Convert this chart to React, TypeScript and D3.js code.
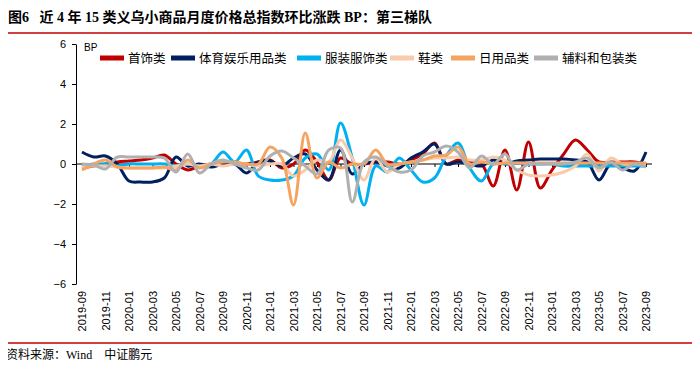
import React, { useEffect, useRef } from "react";
import * as d3 from "d3";

const months = [
  "2019-09", "2019-10", "2019-11", "2019-12",
  "2020-01", "2020-02", "2020-03", "2020-04", "2020-05", "2020-06", "2020-07", "2020-08", "2020-09", "2020-10", "2020-11", "2020-12",
  "2021-01", "2021-02", "2021-03", "2021-04", "2021-05", "2021-06", "2021-07", "2021-08", "2021-09", "2021-10", "2021-11", "2021-12",
  "2022-01", "2022-02", "2022-03", "2022-04", "2022-05", "2022-06", "2022-07", "2022-08", "2022-09", "2022-10", "2022-11", "2022-12",
  "2023-01", "2023-02", "2023-03", "2023-04", "2023-05", "2023-06", "2023-07", "2023-08", "2023-09",
];

// 首饰类
const jewelry = [
  -0.2, -0.1, 0.0, 0.1, 0.15, 0.2, 0.3, 0.45, 0.0, -0.3, -0.1, 0.0, 0.0, 0.05, 0.0, 0.1,
  0.2, -0.2, 0.0, 0.7, 0.1, -0.8, 0.3, 0.0, 0.0, 0.1, 0.1, 0.0,
  0.2, 0.5, 1.05, 0.0, 0.2, 0.1, 0.0, -1.1, 0.7, -1.3, 1.1, -1.2,
  -0.3, 0.5, 1.2, 0.7, 0.1, 0.1, 0.1, 0.1, 0.0,
];
// 体育娱乐用品类
const sports = [
  0.6, 0.35, 0.4, 0.0, -0.85, -0.9, -0.9, -0.7, 0.35, -0.1, 0.0, -0.15, 0.0, 0.0, -0.45, 0.1,
  0.15, -0.1, 0.3, 0.5, -0.3, -0.8, 0.7, -0.5, 0.0, 0.1, -0.1, -0.2,
  0.3, 0.6, 1.0, 0.0, 0.1, 0.0, -0.1, 0.2, 0.0, 0.15, 0.2, 0.25,
  0.25, 0.25, 0.2, 0.1, -0.8, 0.0, -0.2, -0.35, 0.6,
];
// 服装服饰类
const clothing = [
  -0.1, 0.0, 0.0, -0.1, 0.0, 0.0, 0.0, 0.0, -0.1, 0.0, -0.1, 0.0, 0.6, 0.1, 0.7, -0.6,
  -0.8, -0.8, -0.6, 0.3, 0.5, -0.3, 2.05, 0.3, -2.05, -0.1, -0.4, 0.3,
  -0.3, -0.9, -0.7, 0.4, 1.05, -0.2, -0.85, 0.0, 0.0, 0.05, 0.0, 0.0,
  0.0, -0.1, -0.1, -0.1, -0.1, -0.1, -0.1, -0.1, -0.1,
];
// 鞋类
const shoes = [
  -0.15, -0.1, -0.1, -0.15, -0.2, -0.2, -0.2, -0.2, -0.1, 0.0, -0.1, 0.0, -0.1, 0.0, 0.0, -0.1,
  0.0, 0.0, -0.6, -0.3, 0.2, 0.1, 1.2, 0.3, -0.8, 0.3, -0.4, 0.0,
  0.1, 0.2, 0.3, 0.3, 0.35, 0.2, 0.2, 0.35, 0.2, -0.3, -0.55, -0.6,
  -0.55, -0.4, -0.1, 0.5, -0.35, 0.3, 0.0, 0.0, 0.0,
];
// 日用品类
const daily = [
  -0.3, 0.0, 0.2, -0.15, -0.2, -0.2, -0.2, -0.15, -0.3, 0.2, -0.2, 0.0, 0.1, 0.1, 0.0, 0.0,
  0.85, 0.3, -2.05, 1.55, -0.7, 0.1, -0.2, 0.0, 0.0, 0.7, 0.0, 0.0,
  0.1, 0.2, 0.4, 0.45, 0.85, 0.0, 0.1, 0.0, 0.05, 0.05, 0.05, 0.05,
  0.05, 0.05, 0.05, 0.05, 0.05, 0.05, 0.05, 0.05, 0.05,
];
// 辅料和包装类
const packaging = [
  0.0, -0.05, -0.25, 0.35, 0.35, 0.35, 0.35, 0.3, -0.4, 0.5, -0.45, 0.0, 0.2, 0.0, -0.2, -0.3,
  0.4, 0.65, 0.3, -0.1, -0.5, 0.7, 0.8, -1.9, 0.1, 0.35, -0.1, -0.4,
  -0.3, 0.4, 0.6, 0.9, 0.6, -0.2, 0.4, 0.0, 0.5, -0.3, 0.0, 0.0,
  0.0, 0.0, 0.1, 0.3, -0.2, 0.1, -0.3, 0.0, -0.15,
];

const seriesNames = ["首饰类", "体育娱乐用品类", "服装服饰类", "鞋类", "日用品类", "辅料和包装类"];
const seriesValues = [jewelry, sports, clothing, shoes, daily, packaging];
const seriesColors = ["#c00000", "#002060", "#00b0f0", "#f8cbad", "#f4a460", "#b0b0b0"];
const yTicks = [6, 4, 2, 0, -2, -4, -6];

function App() {
  const chartRef = useRef<HTMLDivElement | null>(null);

  useEffect(() => {
    const width = 700;
    const height = 370;
    const plotLeft = 76;
    const plotTop = 44;
    const plotBottom = 284;

    const existing = d3.select(chartRef.current).select("svg");
    if (!existing.empty()) existing.remove();

    const svg = d3.select(chartRef.current)
      .append("svg")
      .attr("width", width)
      .attr("height", height)
      .style("display", "block")
      .style("background", "#fff");

    const x = d3.scalePoint<string>().domain(months).range([82, 646]);
    const y = d3.scaleLinear().domain([-6, 6]).range([plotBottom, plotTop]);

    // title
    svg.append("text")
      .attr("x", 8)
      .attr("y", 22)
      .style("white-space", "pre")
      .attr("font-family", "'Liberation Serif', 'Noto Sans CJK SC', serif")
      .attr("font-weight", "bold")
      .attr("font-size", 14)
      .attr("fill", "#000")
      .text("图6   近 4 年 15 类义乌小商品月度价格总指数环比涨跌 BP：第三梯队");

    svg.append("line")
      .attr("x1", 5).attr("x2", 695).attr("y1", 33).attr("y2", 33)
      .attr("stroke", "#c00000").attr("stroke-width", 1.5);

    // y axis
    const yAxis = svg.append("g")
      .attr("transform", `translate(${plotLeft},0)`)
      .call(d3.axisLeft(y).tickValues(yTicks).tickSize(4).tickSizeOuter(0));
    yAxis.select(".domain").attr("stroke", "#000");
    yAxis.selectAll(".tick line").attr("stroke", "#000");
    yAxis.selectAll(".tick text")
      .attr("font-family", "'Liberation Sans', Arial, sans-serif")
      .attr("font-size", 11)
      .attr("fill", "#000")
      .attr("x", -10);

    svg.append("text")
      .attr("x", 84).attr("y", 51)
      .attr("font-family", "'Liberation Sans', Arial, sans-serif")
      .attr("font-size", 10)
      .text("BP");

    // zero line with ticks
    const monthsShown = months.filter((_, i) => i % 2 === 0);
    const xAxis = svg.append("g")
      .attr("transform", `translate(0,${y(0)})`)
      .call(d3.axisBottom(x).tickValues(monthsShown).tickSize(3).tickSizeOuter(0).tickFormat(() => ""));
    xAxis.select(".domain").attr("d", `M${plotLeft},0H652`).attr("stroke", "#000");
    xAxis.selectAll(".tick line").attr("stroke", "#000");

    // x labels at bottom
    svg.append("g")
      .selectAll("text")
      .data(monthsShown)
      .enter()
      .append("text")
      .attr("transform", d => `translate(${(x(d) as number) + 4},291) rotate(-90)`)
      .attr("text-anchor", "end")
      .attr("font-family", "'Liberation Sans', Arial, sans-serif")
      .attr("font-size", 11)
      .attr("fill", "#000")
      .text(d => d);

    // lines
    const line = d3.line<number>()
      .x((_, i) => x(months[i]) as number)
      .y(d => y(d))
      .curve(d3.curveCatmullRom.alpha(0.5));

    svg.append("g")
      .selectAll("path")
      .data(seriesValues)
      .enter()
      .append("path")
      .attr("d", d => line(d))
      .attr("fill", "none")
      .attr("stroke", (_, i) => seriesColors[i])
      .attr("stroke-width", 3)
      .attr("stroke-linejoin", "round");

    // legend
    const legendX = [100, 171, 297, 390, 451, 534];
    const legend = svg.append("g")
      .selectAll("g")
      .data(seriesNames)
      .enter()
      .append("g")
      .attr("transform", (_, i) => `translate(${legendX[i]},58)`);
    legend.append("rect")
      .attr("x", 0).attr("y", -2.5).attr("width", 24).attr("height", 5)
      .attr("fill", (_, i) => seriesColors[i]);
    legend.append("text")
      .attr("x", 28).attr("y", 4.5)
      .attr("font-family", "'Noto Sans CJK SC', sans-serif")
      .attr("font-size", 12.5)
      .attr("fill", "#000")
      .text(d => d);

    // footer
    svg.append("line")
      .attr("x1", 5).attr("x2", 695).attr("y1", 343).attr("y2", 343)
      .attr("stroke", "#c00000").attr("stroke-width", 1.5);
    svg.append("text")
      .attr("x", 6).attr("y", 359)
      .style("white-space", "pre")
      .attr("font-family", "'Liberation Serif', 'Noto Sans CJK SC', serif")
      .attr("font-size", 12)
      .attr("fill", "#000")
      .text("资料来源：Wind    中证鹏元");
  }, []);

  return (
    <div style={{ margin: -8 }}>
      <div ref={chartRef}></div>
    </div>
  );
}

export default App;
